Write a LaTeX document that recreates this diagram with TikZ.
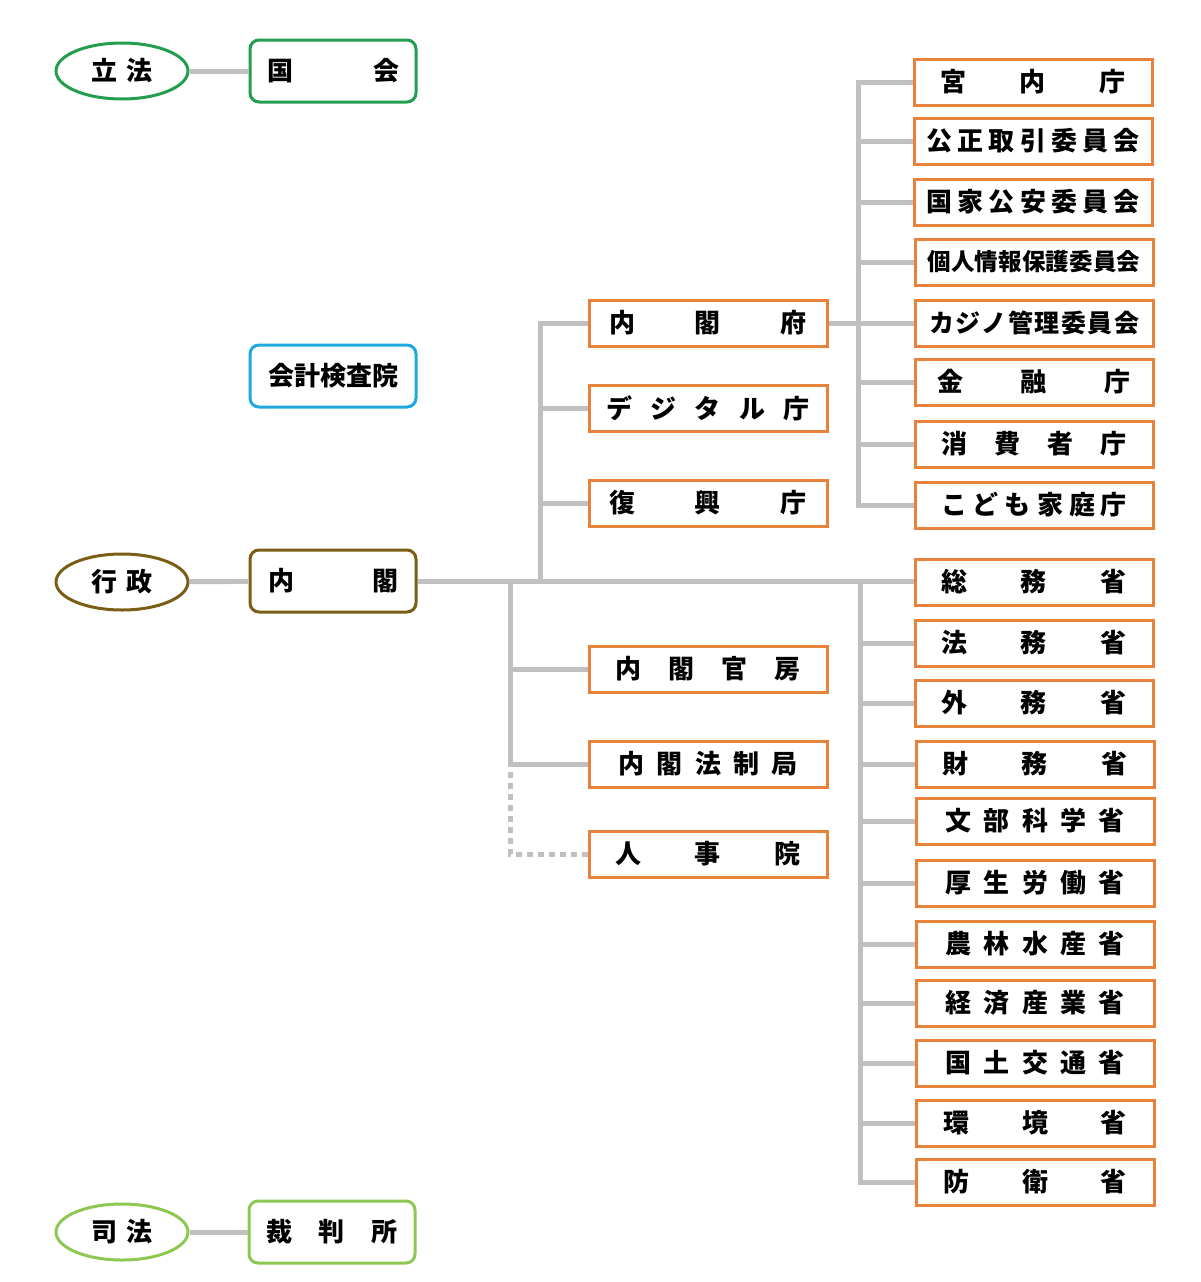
\documentclass[tikz,border=0pt]{standalone}
\usepackage{fontspec}
\setmainfont{Noto Sans CJK JP}
\usetikzlibrary{shapes.geometric}
\definecolor{greenA}{RGB}{34,158,78}
\definecolor{blueA}{RGB}{30,168,222}
\definecolor{oliveA}{RGB}{122,94,22}
\definecolor{greenB}{RGB}{140,200,82}
\definecolor{orangeA}{RGB}{232,130,58}
\definecolor{grayA}{RGB}{192,192,192}
\newcommand\sptxt[2]{\makebox[#1pt]{#2}}
\begin{document}
\begin{tikzpicture}[x=1pt,y=-1pt,
  txt/.style={font=\fontsize{26}{26}\selectfont\bfseries, inner sep=0pt, text=black},
  oval/.style={txt, ellipse, draw, line width=3pt, minimum width=132pt, minimum height=56pt},
  rbox/.style={txt, rectangle, rounded corners=9pt, draw, line width=3pt, minimum width=166pt, minimum height=62pt},
  obox/.style={txt, rectangle, draw=orangeA, line width=3pt, minimum width=238pt, minimum height=46pt},
  link/.style={draw=grayA, line width=5pt},
  dotlink/.style={draw=grayA, line width=5pt, dash pattern=on 6pt off 5pt}]
\useasboundingbox (0,0) rectangle (1200,1282);

% left column
\node[oval, draw=greenA] (rippo) at (122,71) {\sptxt{61}{立\hfill 法}};
\node[rbox, draw=greenA] (kokkai) at (333,71) {\sptxt{132}{国\hfill 会}};
\node[rbox, draw=blueA] (kaikei) at (333,376) {\sptxt{130}{会\hfill 計\hfill 検\hfill 査\hfill 院}};
\node[oval, draw=oliveA] (gyosei) at (122,582) {\sptxt{61}{行\hfill 政}};
\node[rbox, draw=oliveA] (naikaku) at (333,581) {\sptxt{130}{内\hfill 閣}};
\node[oval, draw=greenB] (shiho) at (122,1232) {\sptxt{61}{司\hfill 法}};
\node[rbox, draw=greenB] (saiban) at (332,1232) {\sptxt{132}{裁\hfill 判\hfill 所}};

% middle column
\node[obox] (fu) at (708,323) {\sptxt{197}{内\hfill 閣\hfill 府}};
\node[obox] (digital) at (708,408) {\sptxt{203}{デ\hfill ジ\hfill タ\hfill ル\hfill 庁}};
\node[obox] (fukko) at (708,503) {\sptxt{197}{復\hfill 興\hfill 庁}};
\node[obox] (kanbo) at (708,669) {\sptxt{185}{内\hfill 閣\hfill 官\hfill 房}};
\node[obox] (hosei) at (708,764) {\sptxt{179}{内\hfill 閣\hfill 法\hfill 制\hfill 局}};
\node[obox] (jinji) at (708,854) {\sptxt{185}{人\hfill 事\hfill 院}};

% right column, upper
\node[obox] (kunai) at (1033,82) {\sptxt{185}{宮\hfill 内\hfill 庁}};
\node[obox] (kotori) at (1033,141) {\sptxt{213}{公\hfill 正\hfill 取\hfill 引\hfill 委\hfill 員\hfill 会}};
\node[obox] (kokka) at (1033,202) {\sptxt{213}{国\hfill 家\hfill 公\hfill 安\hfill 委\hfill 員\hfill 会}};
\node[obox] (kojin) at (1034,262) {\fontsize{23.5}{23.5}\selectfont\sptxt{213}{個\hfill 人\hfill 情\hfill 報\hfill 保\hfill 護\hfill 委\hfill 員\hfill 会}};
\node[obox] (kajino) at (1034,323) {\fontsize{25}{25}\selectfont\sptxt{210}{カ\hfill ジ\hfill ノ\hfill 管\hfill 理\hfill 委\hfill 員\hfill 会}};
\node[obox] (kinyu) at (1034,382) {\sptxt{193}{金\hfill 融\hfill 庁}};
\node[obox] (shohi) at (1034,444) {\sptxt{185}{消\hfill 費\hfill 者\hfill 庁}};
\node[obox] (kodomo) at (1034,505) {\sptxt{186}{こ\hfill ど\hfill も\hfill 家\hfill 庭\hfill 庁}};

% right column, ministries
\node[obox] (somu) at (1034,582) {\sptxt{185}{総\hfill 務\hfill 省}};
\node[obox] (homu) at (1034,643) {\sptxt{185}{法\hfill 務\hfill 省}};
\node[obox] (gaimu) at (1034,703) {\sptxt{185}{外\hfill 務\hfill 省}};
\node[obox] (zaimu) at (1035,764) {\sptxt{185}{財\hfill 務\hfill 省}};
\node[obox] (monbu) at (1035,821) {\sptxt{179}{文\hfill 部\hfill 科\hfill 学\hfill 省}};
\node[obox] (kosei) at (1035,883) {\sptxt{179}{厚\hfill 生\hfill 労\hfill 働\hfill 省}};
\node[obox] (norin) at (1035,944) {\sptxt{179}{農\hfill 林\hfill 水\hfill 産\hfill 省}};
\node[obox] (keizai) at (1035,1003) {\sptxt{179}{経\hfill 済\hfill 産\hfill 業\hfill 省}};
\node[obox] (kokudo) at (1035,1063) {\sptxt{179}{国\hfill 土\hfill 交\hfill 通\hfill 省}};
\node[obox] (kankyo) at (1035,1123) {\sptxt{183}{環\hfill 境\hfill 省}};
\node[obox] (boei) at (1035,1182) {\sptxt{183}{防\hfill 衛\hfill 省}};

% trunk points
\coordinate (tA) at (540,582);
\coordinate (tB) at (510,582);
\coordinate (tC) at (858,323);
\coordinate (tD) at (860,582);

% connectors
\draw[link] (rippo) -- (kokkai);
\draw[link] (gyosei) -- (naikaku);
\draw[link] (shiho) -- (saiban);
\draw[link] (naikaku.east) -- (somu.west |- naikaku.east);
\foreach \n in {fu,digital,fukko} \draw[link] (\n.west) -| (tA);
\foreach \n in {kanbo,hosei} \draw[link] (\n.west) -| (tB);
\draw[dotlink] (jinji.west) -| (hosei.west -| tB);
\draw[link] (fu.east) -- (kajino.west);
\foreach \n in {kunai,kotori,kokka,kojin,kinyu,shohi,kodomo} \draw[link] (\n.west) -| (tC);
\foreach \n in {homu,gaimu,zaimu,monbu,kosei,norin,keizai,kokudo,kankyo,boei} \draw[link] (\n.west) -| (tD);
\end{tikzpicture}
\end{document}
